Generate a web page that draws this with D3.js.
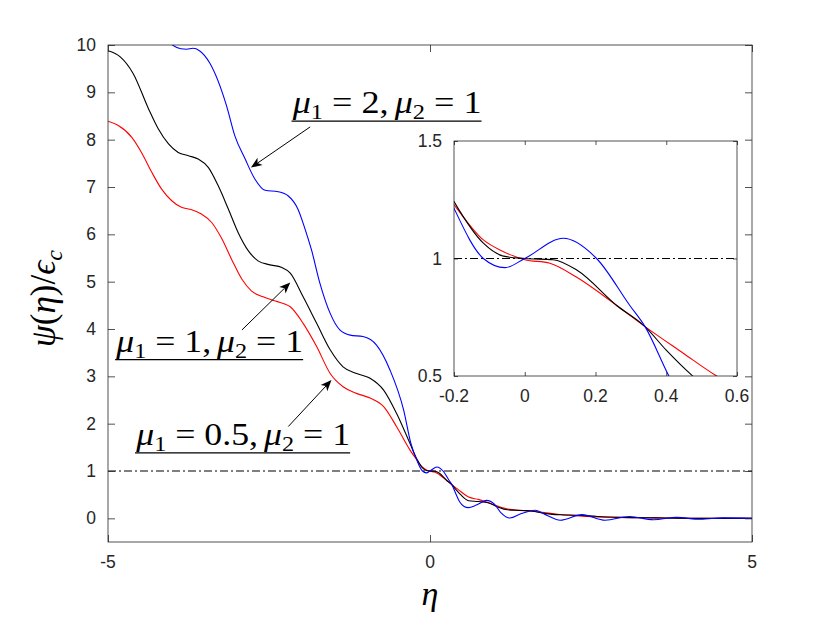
<!DOCTYPE html>
<html>
<head>
<meta charset="utf-8">
<script src="https://cdn.jsdelivr.net/npm/d3@7"></script>
<style>
  body { margin: 0; background: #fff; }
  svg { display: block; }
  .math { font-family: "Liberation Serif", serif; font-weight: normal; fill: #000; }
  .ticklabel { font-family: "Liberation Sans", Arial, sans-serif; font-size: 17.5px; fill: #262626; }
</style>
</head>
<body>
<svg id="chart"></svg>
<script>
const size = {w: 830, h: 618};

// eta / psi pairs (psi(eta)/eps_c)
const etaRed = [-5.0, -4.84, -4.63, -4.48, -4.32, -4.17, -4.01, -3.86, -3.7, -3.55, -3.39, -3.23, -3.08, -2.92, -2.77, -2.59, -2.4, -2.17, -1.97, -1.76, -1.55, -1.35, -1.14, -0.93, -0.72, -0.52, -0.31, -0.2, -0.117, -0.06, 0.0, 0.071, 0.147, 0.26, 0.34, 0.448, 0.538, 0.6, 0.75, 0.88, 1.05, 1.24, 1.6, 2.02, 2.43, 2.9, 3.5, 4.2, 5.0];
const psiRed = [8.39, 8.3, 8.05, 7.73, 7.31, 6.96, 6.71, 6.57, 6.52, 6.43, 6.25, 5.9, 5.47, 5.05, 4.8, 4.68, 4.59, 4.47, 4.12, 3.63, 3.06, 2.78, 2.64, 2.54, 2.36, 1.94, 1.44, 1.228, 1.079, 1.029, 0.995, 0.98, 0.92, 0.8, 0.71, 0.597, 0.504, 0.45, 0.4, 0.345, 0.26, 0.19, 0.15, 0.08, 0.04, 0.02, 0.01, 0.0, 0.0];

const etaBlack = [-5.0, -4.81, -4.61, -4.37, -4.22, -4.06, -3.91, -3.75, -3.6, -3.44, -3.29, -3.13, -2.98, -2.82, -2.67, -2.5, -2.3, -2.17, -1.97, -1.76, -1.55, -1.35, -1.14, -0.93, -0.72, -0.52, -0.31, -0.2, -0.117, -0.06, 0.0, 0.08, 0.147, 0.26, 0.34, 0.4, 0.472, 0.6, 0.75, 0.9, 1.05, 1.2, 1.45, 1.6, 1.8, 2.02, 2.3, 2.6, 3.0, 3.5, 4.2, 5.0];
const psiBlack = [9.88, 9.75, 9.4, 8.65, 8.23, 7.91, 7.73, 7.66, 7.59, 7.41, 7.03, 6.53, 6.04, 5.65, 5.44, 5.36, 5.3, 5.18, 4.68, 4.12, 3.56, 3.2, 3.06, 2.96, 2.71, 2.22, 1.58, 1.242, 1.065, 1.01, 1.0, 0.995, 0.951, 0.8, 0.71, 0.61, 0.504, 0.37, 0.355, 0.33, 0.24, 0.18, 0.165, 0.15, 0.1, 0.075, 0.065, 0.04, 0.02, 0.01, 0.0, 0.0];

const etaBlue = [-5.0, -4.6, -4.3, -4.0, -3.87, -3.78, -3.68, -3.58, -3.42, -3.16, -3.03, -2.87, -2.72, -2.56, -2.36, -2.2, -2.05, -1.94, -1.84, -1.71, -1.55, -1.4, -1.24, -1.04, -0.83, -0.62, -0.41, -0.3, -0.2, -0.117, -0.056, 0.0, 0.109, 0.203, 0.297, 0.34, 0.406, 0.46, 0.53, 0.595, 0.72, 0.88, 1.0, 1.1, 1.24, 1.42, 1.63, 1.82, 2.02, 2.36, 2.72, 3.1, 3.47, 3.83, 4.2, 4.55, 5.0];
const psiBlue = [11.7, 11.2, 10.5, 10.0, 9.92, 9.91, 9.93, 9.88, 9.62, 8.72, 8.08, 7.59, 7.17, 6.93, 6.9, 6.81, 6.53, 6.11, 5.67, 4.97, 4.33, 3.98, 3.87, 3.84, 3.66, 3.13, 2.29, 1.6, 1.214, 1.0, 0.961, 1.0, 1.086, 1.0, 0.8, 0.71, 0.504, 0.35, 0.25, 0.226, 0.28, 0.38, 0.3, 0.12, 0.006, 0.1, 0.17, 0.06, -0.04, 0.078, -0.04, 0.04, -0.03, 0.02, -0.02, 0.01, 0.0];

const seriesColors = ['#ff0000', '#000000', '#0000ff'];
const refLevel = 1;

const mainXTicks = [-5, 0, 5];
const mainYTicks = [0, 1, 2, 3, 4, 5, 6, 7, 8, 9, 10];
const insetXTicks = [-0.2, 0, 0.2, 0.4, 0.6];
const insetYTicks = [0.5, 1, 1.5];

// annotation: mu_1 value, label start (data coords), label end eta, arrow tail/head (data coords)
const labelMu1 = ['2', '1', '0.5'];
const labelStart = [[-2.15, 8.56], [-4.89, 3.52], [-4.58, 1.55]];
const labelEnd = [0.8, -1.97, -1.24];
const arrowTail = [[-1.86, 8.27], [-2.92, 3.98], [-2.2, 1.94]];
const arrowHead = [[-2.78, 7.41], [-2.17, 4.98], [-1.53, 2.92]];

const series = [
    {eta: etaRed, psi: psiRed},
    {eta: etaBlack, psi: psiBlack},
    {eta: etaBlue, psi: psiBlue}
].map((s, i) => ({color: seriesColors[i], points: d3.zip(s.eta, s.psi)}));

const svg = d3.select('svg#chart')
    .attr('width', size.w)
    .attr('height', size.h);

svg.append('rect').attr('width', size.w).attr('height', size.h).attr('fill', '#fff');

const x = d3.scaleLinear().domain([-5, 5]).range([108, 752]);
const y = d3.scaleLinear().domain([-0.5, 10]).range([542, 45]);

const xi = d3.scaleLinear().domain([-0.2, 0.6]).range([454, 737]);
const yi = d3.scaleLinear().domain([0.5, 1.5]).range([376, 141]);

const defs = svg.append('defs');
function clip(id, xs, ys) {
    defs.append('clipPath').attr('id', id)
        .append('rect')
        .attr('x', xs.range()[0]).attr('y', ys.range()[1])
        .attr('width', xs.range()[1] - xs.range()[0])
        .attr('height', ys.range()[0] - ys.range()[1]);
}
clip('clipMain', x, y);
clip('clipInset', xi, yi);

function drawAxes(g, xs, ys, xt, yt, tick) {
    const [x0, x1] = xs.range();
    const [y0, y1] = ys.range();
    g.append('g').attr('transform', `translate(0,${y0})`)
        .call(d3.axisBottom(xs).tickValues(xt).tickSize(-tick).tickFormat(''));
    g.append('g').attr('transform', `translate(0,${y1})`)
        .call(d3.axisTop(xs).tickValues(xt).tickSize(-tick).tickFormat(''));
    g.append('g').attr('transform', `translate(${x0},0)`)
        .call(d3.axisLeft(ys).tickValues(yt).tickSize(-tick).tickFormat(''));
    g.append('g').attr('transform', `translate(${x1},0)`)
        .call(d3.axisRight(ys).tickValues(yt).tickSize(-tick).tickFormat(''));
    g.selectAll('.domain').remove();
    g.selectAll('.tick text').remove();
    g.selectAll('.tick line').attr('stroke', '#262626').attr('stroke-width', 0.8);

    // tick labels
    g.append('g').selectAll('text')
        .data(xt)
        .join('text')
        .attr('class', 'ticklabel')
        .attr('x', d => xs(d))
        .attr('y', y0 + 26)
        .attr('text-anchor', 'middle')
        .text(d => String(d));
    g.append('g').selectAll('text')
        .data(yt)
        .join('text')
        .attr('class', 'ticklabel')
        .attr('x', x0 - 12)
        .attr('y', d => ys(d) + 6)
        .attr('text-anchor', 'end')
        .text(d => String(d));

    g.append('rect')
        .attr('x', x0).attr('y', y1)
        .attr('width', x1 - x0).attr('height', y0 - y1)
        .attr('fill', 'none').attr('stroke', '#262626').attr('stroke-width', 0.8);
}

function drawCurves(g, xs, ys, clipId) {
    const line = d3.line()
        .x(d => xs(d[0]))
        .y(d => ys(d[1]))
        .curve(d3.curveMonotoneX);
    const inner = g.append('g').attr('clip-path', `url(#${clipId})`);
    inner.append('line')
        .attr('x1', xs.range()[0]).attr('x2', xs.range()[1])
        .attr('y1', ys(refLevel)).attr('y2', ys(refLevel))
        .attr('stroke', '#000').attr('stroke-width', 1)
        .attr('stroke-dasharray', '8,3,2,3');
    inner.selectAll('path.curve')
        .data(series)
        .join('path')
        .classed('curve', true)
        .attr('fill', 'none')
        .attr('stroke', d => d.color)
        .attr('stroke-width', 1.1)
        .attr('d', d => line(d.points));
}

// main axes
const mainG = svg.append('g');
drawCurves(mainG, x, y, 'clipMain');
drawAxes(mainG, x, y, mainXTicks, mainYTicks, 7);

// axis titles
svg.append('text').attr('class', 'math')
    .attr('x', x(0)).attr('y', 605)
    .attr('text-anchor', 'middle')
    .attr('font-size', 34).attr('font-style', 'italic')
    .text('η');

const yTitle = svg.append('text').attr('class', 'math')
    .attr('transform', `translate(55,${(y.range()[0] + y.range()[1]) / 2 + 5}) rotate(-90)`)
    .attr('text-anchor', 'middle')
    .attr('font-size', 35);
yTitle.append('tspan').attr('font-style', 'italic').text('ψ');
yTitle.append('tspan').text('(');
yTitle.append('tspan').attr('font-style', 'italic').text('η');
yTitle.append('tspan').text(')/');
yTitle.append('tspan').attr('font-style', 'italic').text('ϵ');
yTitle.append('tspan').attr('font-style', 'italic').attr('font-size', 24).attr('dy', 7).text('c');

// annotations
labelMu1.forEach((m, i) => {
    const x0 = x(labelStart[i][0]);
    const yb = y(labelStart[i][1]);
    const w = x(labelEnd[i]) - x0;
    const g = svg.append('g');
    const t = g.append('text').attr('class', 'math').attr('font-size', 31);
    t.append('tspan').attr('font-style', 'italic').text('μ');
    t.append('tspan').attr('font-size', 21).attr('dy', 6).text('1');
    t.append('tspan').attr('dy', -6).text(`\u2005=\u2005${m},\u2006`);
    t.append('tspan').attr('font-style', 'italic').text('μ');
    t.append('tspan').attr('font-size', 21).attr('dy', 6).text('2');
    t.append('tspan').attr('dy', -6).text('\u2005=\u20051');
    const bb = t.node().getBBox();
    const k = w / bb.width;
    t.attr('transform', `translate(${x0 - bb.x * k},${yb}) scale(${k},1)`);
    g.append('line')
        .attr('x1', x0).attr('x2', x0 + w)
        .attr('y1', yb + 8).attr('y2', yb + 8)
        .attr('stroke', '#000').attr('stroke-width', 1.2);

    const tx = x(arrowTail[i][0]), ty = y(arrowTail[i][1]);
    const hx = x(arrowHead[i][0]), hy = y(arrowHead[i][1]);
    const ang = Math.atan2(hy - ty, hx - tx);
    const len = 11, half = 4.5, back = 8;
    const ux = Math.cos(ang), uy = Math.sin(ang);
    const px = -uy, py = ux;
    g.append('line')
        .attr('x1', tx).attr('y1', ty)
        .attr('x2', hx - ux * back).attr('y2', hy - uy * back)
        .attr('stroke', '#000').attr('stroke-width', 1);
    const pts = [
        [hx, hy],
        [hx - ux * len + px * half, hy - uy * len + py * half],
        [hx - ux * back, hy - uy * back],
        [hx - ux * len - px * half, hy - uy * len - py * half]
    ];
    g.append('path').attr('d', 'M' + pts.join('L') + 'Z').attr('fill', '#000');
});

// inset
const insetG = svg.append('g');
insetG.append('rect')
    .attr('x', xi.range()[0]).attr('y', yi.range()[1])
    .attr('width', xi.range()[1] - xi.range()[0])
    .attr('height', yi.range()[0] - yi.range()[1])
    .attr('fill', '#fff');
drawCurves(insetG, xi, yi, 'clipInset');
drawAxes(insetG, xi, yi, insetXTicks, insetYTicks, 4);
</script>
</body>
</html>
